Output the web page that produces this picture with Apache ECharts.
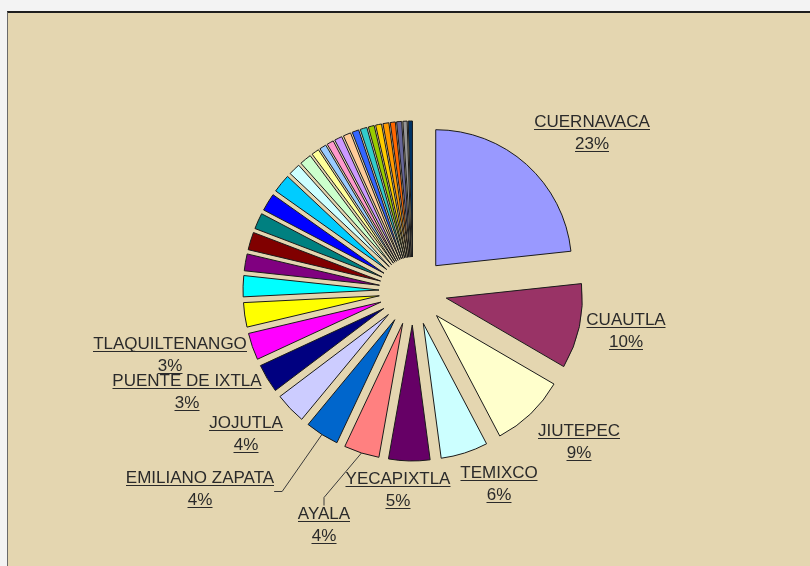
<!DOCTYPE html>
<html>
<head>
<meta charset="utf-8">
<title>Morelos</title>
<script src="https://cdn.jsdelivr.net/npm/echarts@6/dist/echarts.min.js"></script>
<style>
  html, body { margin: 0; padding: 0; background: #f3f3f3; }
  #chart {
    position: absolute; left: 7px; top: 11px;
    width: 803px; height: 555px;
    background: #e4d6b0;
    border-top: 2px solid #1e1e1e;
    border-left: 1px solid #6a6a6a;
    box-sizing: border-box;
  }
</style>
</head>
<body>
<div id="chart"></div>
<script>
// municipios, en el orden del pastel (sentido horario desde arriba)
const municipios = ['CUERNAVACA', 'CUAUTLA', 'JIUTEPEC', 'TEMIXCO', 'YECAPIXTLA', 'AYALA',
  'EMILIANO ZAPATA', 'JOJUTLA', 'PUENTE DE IXTLA', 'TLAQUILTENANGO',
  'YAUTEPEC', 'XOCHITEPEC', 'TLALTIZAPAN', 'ZACATEPEC', 'TEPOZTLAN', 'AXOCHIAPAN',
  'MIACATLAN', 'TEPALCINGO', 'ATLATLAHUCAN', 'AMACUZAC', 'JONACATEPEC', 'OCUITUCO',
  'TLAYACAPAN', 'HUITZILAC', 'TOTOLAPAN', 'JANTETELCO', 'TETELA DEL VOLCAN',
  'COATLAN DEL RIO', 'MAZATEPEC', 'TETECALA', 'TEMOAC', 'ZACUALPAN', 'TLALNEPANTLA'];

const porcentajes = [23.3, 10.1, 8.9, 5.6, 4.9, 4.2, 4.0, 3.7, 3.4, 3.2,
  2.9, 2.5, 2.0, 2.1, 1.9, 2.1, 2.2, 1.4, 1.4, 0.9, 0.8, 0.8, 0.9,
  0.9, 0.8, 0.8, 0.7, 0.7, 0.7, 0.6, 0.6, 0.5, 0.5];

// solo estos llevan etiqueta
const conEtiqueta = ['CUERNAVACA', 'CUAUTLA', 'JIUTEPEC', 'TEMIXCO', 'YECAPIXTLA', 'AYALA',
  'EMILIANO ZAPATA', 'JOJUTLA', 'PUENTE DE IXTLA', 'TLAQUILTENANGO'];
const conLinea = ['AYALA', 'EMILIANO ZAPATA'];

// paleta por defecto de Excel
const colores = ['#9999FF', '#993366', '#FFFFCC', '#CCFFFF', '#660066', '#FF8080', '#0066CC',
  '#CCCCFF', '#000080', '#FF00FF', '#FFFF00', '#00FFFF', '#800080', '#800000', '#008080',
  '#0000FF', '#00CCFF', '#CCFFFF', '#CCFFCC', '#FFFF99', '#99CCFF', '#FF99CC', '#CC99FF',
  '#FFCC99', '#3366FF', '#33CCCC', '#99CC00', '#FFCC00', '#FF9900', '#FF6600', '#666699',
  '#969696', '#003366'];

// donde va cada etiqueta (borde superior, centrada)
const posEtiquetas = {
  'CUERNAVACA': [584, 102],
  'CUAUTLA': [618, 300],
  'JIUTEPEC': [571, 411],
  'TEMIXCO': [491, 453],
  'YECAPIXTLA': [390, 459],
  'AYALA': [316, 494],
  'EMILIANO ZAPATA': [192, 458],
  'JOJUTLA': [238, 403],
  'PUENTE DE IXTLA': [179, 361],
  'TLAQUILTENANGO': [162, 324]
};

const familia = '"Liberation Sans", Arial, sans-serif';
const colorTexto = '#2a2a2a';
const ctx = document.createElement('canvas').getContext('2d');
ctx.font = '17px ' + familia;
const ancho = (t) => Math.round(ctx.measureText(t).width);

const total = porcentajes.reduce((a, b) => a + b, 0);

// rebanadas separadas (todas seleccionadas)
const rebanadas = municipios.map((nombre, i) => ({ name: nombre, value: porcentajes[i], selected: true }));

// serie invisible solo para las etiquetas
const etiquetas = municipios.map((nombre, i) => {
  const item = { name: nombre, value: porcentajes[i] };
  if (conEtiqueta.includes(nombre)) {
    const pct = Math.round(porcentajes[i] / total * 100) + '%';
    item.label = {
      show: true,
      formatter: '{n|' + nombre + '}\n{u1|}\n{g|}\n{n|' + pct + '}\n{u2|}',
      rich: {
        n: { fontSize: 17, fontFamily: familia, color: colorTexto, lineHeight: 14 },
        u1: { width: ancho(nombre), height: 1, lineHeight: 1, backgroundColor: colorTexto },
        g: { lineHeight: 7 },
        u2: { width: ancho(pct), height: 1, lineHeight: 1, backgroundColor: colorTexto }
      }
    };
    item.labelLine = { show: conLinea.includes(nombre) };
  }
  return item;
});

const chart = echarts.init(document.getElementById('chart'));
chart.setOption({
  animation: false,
  color: colores,
  series: [{
    type: 'pie',
    center: [405, 278],
    radius: 136,
    startAngle: 90,
    clockwise: true,
    selectedMode: 'multiple',
    selectedOffset: 34,
    itemStyle: { borderColor: '#1a1a1a', borderWidth: 1 },
    select: { itemStyle: { borderColor: '#1a1a1a', borderWidth: 1 } },
    emphasis: { disabled: true },
    label: { show: false },
    labelLine: { show: false },
    data: rebanadas
  }, {
    type: 'pie',
    center: [405, 278],
    radius: 170,
    startAngle: 90,
    clockwise: true,
    silent: true,
    avoidLabelOverlap: false,
    itemStyle: { color: 'rgba(0,0,0,0)', borderWidth: 0 },
    emphasis: { disabled: true },
    label: { show: false, position: 'outside' },
    labelLine: {
      show: false,
      length: 12,
      length2: 8,
      lineStyle: { color: '#3a3a3a', width: 1 }
    },
    labelLayout: (params) => {
      const p = posEtiquetas[municipios[params.dataIndex]];
      if (!p) return {};
      return { x: p[0], y: p[1], align: 'center', verticalAlign: 'top' };
    },
    data: etiquetas
  }]
});
</script>
</body>
</html>
